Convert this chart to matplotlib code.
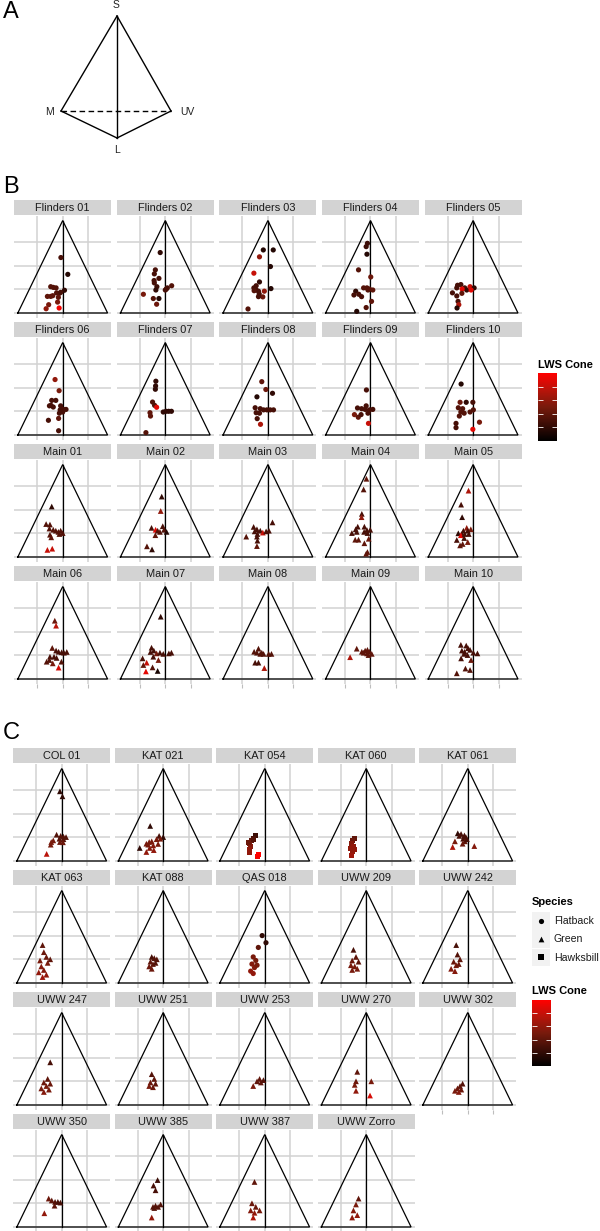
import matplotlib
matplotlib.use("Agg")
import matplotlib.pyplot as plt
from matplotlib.colors import LinearSegmentedColormap, Normalize
from matplotlib.cm import ScalarMappable

plt.rcParams['font.family'] = ['Liberation Sans', 'DejaVu Sans']

W, H = 600, 1231

# panel A: tetrahedron sketch (diagram units)
tetra_vertices = {"S": (0.0, 1.22), "M": (-0.56, 0.27), "UV": (0.54, 0.27), "L": (0.0, 0.0)}
tetra_edges = [("S", "M"), ("S", "UV"), ("S", "L"), ("M", "L"), ("UV", "L")]
tetra_hidden = [("M", "UV")]
tetra_label_pos = {"S": (-0.01, 1.33), "M": (-0.67, 0.26), "UV": (0.70, 0.26), "L": (0.0, -0.12)}

# side view of colour space
tri_x = [-1.76, 1.76, 0.0, -1.76]
tri_y = [0.0, 0.0, 3.9, 0.0]

# (x, y, LWS cone) per individual
flinders = {
    "Flinders 01": [(-0.07, 2.34, .30), (0.20, 1.63, .15), (-0.47, 1.11, .35), (-0.37, 1.08, .35),
                    (-0.26, 1.06, .35), (-0.60, 0.70, .40), (-0.47, 0.70, .40), (-0.39, 0.73, .40),
                    (-0.24, 0.85, .35), (-0.13, 0.83, .35), (0.07, 0.96, .20), (-0.17, 0.66, .40),
                    (-0.20, 0.46, .50), (-0.55, 0.35, .50), (-0.65, 0.18, .60), (-0.14, 0.21, .95),
                    (-0.08, 0.87, .30)],
    "Flinders 02": [(-0.20, 2.55, .20), (-0.39, 1.82, .30), (-0.43, 1.65, .30), (-0.25, 1.46, .30),
                    (-0.44, 1.37, .30), (-0.43, 1.27, .30), (-0.33, 1.11, .25), (-0.37, 0.97, .20),
                    (-0.86, 0.79, .50), (0.04, 1.01, .30), (0.25, 1.15, .35), (0.08, 1.06, .30),
                    (-0.47, 0.61, .35), (-0.25, 0.61, .15), (-0.34, 0.37, .45), (0.00, 0.97, .30)],
    "Flinders 03": [(-0.18, 2.66, .15), (0.21, 2.66, .15), (-0.33, 2.37, .60), (0.10, 1.96, .15),
                    (-0.55, 1.68, .80), (-0.33, 1.31, .20), (-0.46, 1.15, .30), (-0.55, 1.06, .30),
                    (-0.46, 0.97, .30), (-0.37, 0.92, .30), (-0.54, 0.94, .35), (-0.14, 0.92, .60),
                    (0.12, 1.03, .15), (-0.34, 0.80, .30), (-0.20, 0.68, .45), (-0.37, 0.69, .30),
                    (-0.78, 0.17, .35)],
    "Flinders 04": [(-0.12, 2.94, .25), (-0.17, 2.80, .25), (-0.14, 2.48, .15), (-0.47, 1.82, .35),
                    (0.01, 1.52, .45), (-0.27, 1.06, .35), (-0.14, 1.06, .35), (-0.04, 1.01, .35),
                    (0.09, 0.97, .40), (-0.10, 0.97, .35), (-0.58, 0.92, .20), (-0.65, 0.76, .30),
                    (-0.46, 0.79, .30), (-0.35, 0.69, .30), (0.04, 0.49, .40), (-0.17, 0.23, .35),
                    (-0.54, 0.07, .15)],
    "Flinders 05": [(-0.61, 1.17, .30), (-0.48, 1.20, .30), (-0.64, 1.06, .30), (-0.33, 1.06, .30),
                    (-0.25, 0.97, .20), (-0.12, 1.11, .80), (-0.43, 1.01, .90), (0.04, 1.06, .20),
                    (-0.08, 0.97, .90), (-0.44, 0.83, .40), (-0.81, 0.85, .30), (-0.64, 0.72, .30),
                    (-0.59, 0.49, .30), (-0.56, 0.35, .70), (-0.63, 0.21, .15)],
    "Flinders 06": [(-0.30, 2.34, .60), (-0.14, 1.87, .50), (-0.43, 1.46, .30), (-0.27, 1.46, .30),
                    (-0.52, 1.23, .30), (-0.46, 1.25, .30), (-0.37, 1.18, .30), (-0.08, 1.23, .30),
                    (-0.10, 1.06, .30), (0.03, 1.08, .30), (0.13, 1.08, .30), (-0.13, 0.92, .30),
                    (0.00, 0.97, .30), (-0.56, 0.62, .30), (-0.16, 0.70, .40), (-0.16, 0.18, .30)],
    "Flinders 07": [(-0.37, 2.27, .20), (-0.38, 2.07, .20), (-0.39, 1.93, .20), (-0.50, 1.39, .35),
                    (-0.42, 1.25, .35), (-0.34, 1.17, .90), (-0.60, 0.94, .40), (-0.58, 0.80, .40),
                    (-0.08, 0.97, .20), (0.03, 1.00, .20), (0.13, 1.00, .20), (0.24, 1.00, .20),
                    (-0.76, 0.10, .35)],
    "Flinders 08": [(-0.24, 2.25, .40), (-0.08, 1.92, .45), (0.18, 1.76, .20), (-0.43, 1.61, .15),
                    (-0.50, 1.15, .30), (-0.30, 1.11, .30), (-0.17, 1.06, .30), (-0.04, 1.06, .30),
                    (0.09, 1.06, .30), (0.22, 1.06, .30), (-0.46, 0.94, .30), (-0.33, 0.92, .30),
                    (-0.42, 0.69, .30), (-0.29, 0.45, .70)],
    "Flinders 09": [(-0.16, 1.90, .30), (-0.51, 1.14, .30), (-0.35, 1.11, .30), (-0.17, 1.23, .30),
                    (-0.21, 1.08, .30), (-0.04, 1.06, .30), (0.09, 1.08, .30), (-0.63, 0.86, .50),
                    (-0.48, 0.75, .40), (-0.37, 0.86, .30), (-0.10, 0.92, .30), (-0.08, 0.49, .80)],
    "Flinders 10": [(-0.47, 2.15, .15), (-0.51, 1.38, .45), (-0.27, 1.38, .20), (-0.01, 1.38, .30),
                    (-0.58, 1.15, .35), (-0.41, 1.11, .35), (-0.48, 0.97, .35), (-0.35, 0.92, .35),
                    (-0.12, 0.97, .35), (0.01, 1.06, .35), (-0.54, 0.80, .35), (0.25, 0.54, .50),
                    (-0.67, 0.49, .30), (-0.67, 0.31, .30), (-0.01, 0.24, .90)],
}

main = {
    "Main 01": [(-0.43, 2.13, .20), (-0.65, 1.39, .35), (-0.50, 1.37, .35), (-0.52, 1.20, .35),
                (-0.37, 1.15, .35), (-0.27, 1.11, .35), (-0.17, 1.06, .35), (-0.08, 1.11, .35),
                (0.00, 1.01, .35), (-0.13, 0.97, .35), (-0.50, 0.94, .35), (-0.45, 0.83, .40),
                (-0.60, 0.30, .80), (-0.41, 0.35, .80)],
    "Main 02": [(-0.14, 2.55, .20), (-0.18, 1.94, .60), (-0.10, 1.30, .30), (-0.54, 1.23, .30),
                (-0.38, 1.15, .90), (-0.30, 1.11, .35), (-0.21, 1.06, .35), (-0.05, 1.15, .35),
                (0.05, 1.06, .15), (-0.39, 0.92, .40), (-0.72, 0.45, .35), (-0.52, 0.32, .20)],
    "Main 03": [(0.18, 1.46, .30), (-0.56, 1.27, .30), (-0.43, 1.17, .30), (-0.30, 1.11, .30),
                (-0.20, 1.03, .80), (-0.07, 1.08, .30), (0.04, 1.11, .30), (-0.52, 1.08, .30),
                (-0.41, 0.97, .30), (-0.85, 0.86, .35), (-0.43, 0.86, .30), (-0.41, 0.69, .30),
                (-0.43, 0.46, .40)],
    "Main 04": [(-0.16, 3.30, .40), (-0.27, 2.85, .35), (-0.34, 1.82, .30), (-0.35, 1.68, .60),
                (-0.50, 1.28, .30), (-0.24, 1.28, .30), (-0.58, 1.17, .30), (-0.14, 1.14, .30),
                (-0.01, 1.15, .30), (-0.73, 1.01, .30), (-0.54, 1.06, .30), (-0.25, 1.06, .30),
                (-0.12, 1.01, .30), (-0.60, 0.73, .40), (-0.47, 0.73, .40), (-0.24, 0.58, .40),
                (-0.07, 0.77, .45), (-0.12, 0.21, .40), (-0.17, 0.14, .40)],
    "Main 05": [(-0.18, 2.80, .70), (-0.47, 2.21, .30), (-0.43, 1.68, .20), (-0.25, 1.23, .60),
                (-0.09, 1.17, .50), (-0.38, 1.11, .30), (-0.21, 1.11, .30), (-0.58, 1.00, .20),
                (-0.44, 0.97, .30), (-0.48, 0.92, .90), (-0.33, 0.97, .30), (-0.17, 0.97, .30),
                (-0.64, 0.72, .30), (-0.35, 0.80, .30), (-0.21, 0.63, .50), (-0.51, 0.49, .40),
                (-0.41, 0.55, .40)],
    "Main 06": [(-0.31, 2.46, .45), (-0.26, 2.25, .75), (-0.41, 1.31, .40), (-0.26, 1.20, .30),
                (-0.16, 1.15, .30), (-0.04, 1.13, .30), (0.16, 1.14, .30), (0.05, 1.11, .30),
                (-0.50, 0.94, .30), (-0.34, 0.94, .30), (-0.24, 0.89, .30), (-0.63, 0.73, .35),
                (-0.39, 0.66, .50), (-0.05, 0.73, .35), (-0.16, 0.48, .85), (-0.52, 0.80, .35)],
    "Main 07": [(-0.18, 2.63, .20), (-0.54, 1.32, .30), (-0.45, 1.20, .30), (-0.58, 1.14, .30),
                (-0.34, 1.08, .50), (-0.21, 1.11, .30), (-0.08, 1.06, .30), (0.14, 1.08, .30),
                (0.24, 1.11, .30), (-0.47, 0.94, .30), (-0.27, 0.80, .50), (-0.89, 0.87, .30),
                (-0.73, 0.69, .80), (-0.86, 0.59, .40), (-0.50, 0.49, .35), (-0.76, 0.32, .90),
                (-0.30, 0.34, .10)],
    "Main 08": [(-0.37, 1.28, .35), (-0.54, 1.15, .35), (-0.43, 1.11, .35), (-0.30, 1.06, .35),
                (-0.17, 1.06, .35), (-0.24, 1.11, .35), (0.03, 1.06, .35), (0.14, 1.06, .35),
                (-0.50, 0.69, .30), (-0.37, 0.69, .30), (-0.14, 0.46, .70)],
    "Main 09": [(-0.54, 1.28, .40), (-0.80, 0.92, .70), (-0.34, 1.15, .40), (-0.21, 1.20, .40),
                (-0.12, 1.23, .40), (-0.27, 1.11, .40), (-0.14, 1.08, .40), (-0.04, 1.15, .40),
                (0.05, 1.06, .40), (-0.08, 1.01, .40)],
    "Main 10": [(-0.48, 1.44, .30), (-0.27, 1.41, .30), (-0.20, 1.30, .30), (-0.44, 1.20, .30),
                (-0.12, 1.23, .30), (-0.33, 1.15, .30), (0.01, 1.11, .30), (0.17, 1.08, .30),
                (-0.35, 1.06, .30), (-0.22, 1.01, .30), (-0.47, 0.87, .30), (-0.08, 0.80, .45),
                (-0.30, 0.44, .35), (-0.12, 0.38, .35), (-0.64, 0.24, .35)],
}

sites = {
    "COL 01": [(-0.07, 2.94, .20), (0.03, 2.73, .20), (-0.20, 1.11, .35), (-0.04, 1.06, .35),
               (0.07, 1.03, .35), (0.17, 1.01, .35), (-0.09, 0.94, .35), (0.07, 0.92, .35),
               (-0.33, 0.87, .50), (-0.41, 0.80, .50), (-0.43, 0.69, .50), (-0.07, 0.80, .45),
               (0.05, 0.79, .45), (-0.59, 0.30, .75)],
    "KAT 021": [(-0.51, 1.48, .20), (-0.16, 1.06, .30), (0.00, 1.01, .20), (-0.26, 0.92, .50),
                (-0.45, 0.83, .50), (-0.59, 0.69, .50), (-0.66, 0.73, .50), (-0.39, 0.66, .55),
                (-0.20, 0.72, .50), (-0.53, 0.55, .55), (-0.37, 0.46, .60), (-0.66, 0.38, .60),
                (-0.92, 0.55, .20), (-0.55, 0.80, .50), (-0.11, 0.94, .50)],
    "KAT 054": [(-0.36, 1.06, .25), (-0.42, 0.97, .30), (-0.53, 0.87, .40), (-0.58, 0.73, .50),
                (-0.55, 0.63, .55), (-0.59, 0.49, .60), (-0.59, 0.35, .60), (-0.29, 0.21, .95),
                (-0.24, 0.27, 1.0), (-0.45, 0.92, .35), (-0.62, 0.80, .45)],
    "KAT 060": [(-0.47, 0.97, .40), (-0.54, 0.86, .45), (-0.58, 0.73, .55), (-0.50, 0.63, .60),
                (-0.61, 0.52, .60), (-0.55, 0.41, .60), (-0.58, 0.24, .65), (-0.47, 0.49, .60)],
    "KAT 061": [(-0.39, 1.17, .20), (-0.26, 1.14, .30), (-0.13, 1.08, .30), (-0.07, 1.01, .30),
                (-0.33, 1.06, .30), (-0.18, 0.94, .30), (-0.11, 0.83, .40), (-0.20, 0.73, .45),
                (-0.50, 0.83, .50), (-0.59, 0.59, .70), (0.26, 0.63, .55), (-0.03, 0.92, .30)],
    "KAT 063": [(-0.75, 1.60, .40), (-0.70, 1.30, .45), (-0.60, 1.10, .45), (-0.85, 0.95, .50),
                (-0.55, 0.85, .50), (-0.80, 0.70, .55), (-0.70, 0.55, .55), (-0.90, 0.45, .60),
                (-0.60, 0.35, .60), (-0.75, 0.25, .65), (-0.45, 1.00, .40)],
    "KAT 088": [(-0.45, 1.10, .30), (-0.35, 1.05, .35), (-0.25, 1.00, .35), (-0.50, 0.90, .40),
                (-0.40, 0.80, .40), (-0.55, 0.70, .45), (-0.30, 0.85, .35), (-0.45, 0.60, .45)],
    "QAS 018": [(-0.10, 2.00, .20), (0.05, 1.70, .20), (-0.25, 1.50, .40), (-0.45, 1.10, .50),
                (-0.35, 0.95, .50), (-0.50, 0.80, .55), (-0.40, 0.65, .55), (-0.30, 0.75, .50),
                (-0.55, 0.50, .60), (-0.45, 0.40, .60)],
    "UWW 209": [(-0.50, 1.40, .30), (-0.40, 1.10, .40), (-0.55, 0.95, .45), (-0.30, 0.90, .40),
                (-0.60, 0.75, .50), (-0.45, 0.70, .50), (-0.35, 0.60, .50), (-0.55, 0.55, .50)],
    "UWW 242": [(-0.45, 1.60, .30), (-0.40, 1.20, .35), (-0.30, 1.00, .40), (-0.55, 0.90, .45),
                (-0.45, 0.75, .50), (-0.65, 0.60, .55), (-0.50, 0.50, .55), (-0.35, 0.80, .45)],
    "UWW 247": [(-0.45, 1.80, .30), (-0.55, 1.10, .40), (-0.70, 0.95, .45), (-0.45, 0.90, .45),
                (-0.60, 0.80, .50), (-0.80, 0.70, .50), (-0.50, 0.65, .50), (-0.70, 0.55, .55)],
    "UWW 251": [(-0.45, 1.30, .35), (-0.35, 1.10, .40), (-0.50, 0.95, .45), (-0.30, 0.90, .40),
                (-0.55, 0.80, .50), (-0.40, 0.75, .45)],
    "UWW 253": [(-0.20, 1.10, .40), (-0.30, 1.00, .40), (-0.45, 0.80, .50), (-0.15, 0.95, .40),
                (-0.05, 1.05, .35)],
    "UWW 270": [(-0.35, 1.40, .40), (-0.40, 1.00, .45), (-0.45, 0.85, .50), (0.20, 1.00, .50),
                (-0.40, 0.60, .60), (0.15, 0.40, .85)],
    "UWW 302": [(-0.20, 0.90, .35), (-0.30, 0.80, .40), (-0.40, 0.70, .45), (-0.50, 0.60, .50),
                (-0.25, 0.65, .45), (-0.35, 0.55, .55)],
    "UWW 350": [(-0.51, 1.20, .45), (-0.39, 1.12, .40), (-0.26, 1.06, .35), (-0.15, 1.06, .30),
                (-0.05, 1.03, .30), (-0.28, 0.90, .40), (-0.68, 0.58, .60)],
    "UWW 385": [(-0.22, 1.98, .25), (-0.38, 1.75, .30), (-0.30, 1.55, .30), (-0.40, 0.85, .35),
                (-0.30, 0.90, .35), (-0.20, 0.85, .35), (-0.10, 0.95, .35), (-0.45, 0.40, .60),
                (-0.35, 0.80, .35)],
    "UWW 387": [(-0.40, 1.90, .40), (-0.50, 1.00, .45), (-0.35, 0.85, .45), (-0.55, 0.70, .55),
                (-0.40, 0.60, .60), (-0.20, 0.70, .50), (-0.45, 0.40, .70)],
    "UWW Zorro": [(-0.30, 1.20, .40), (-0.40, 0.95, .50), (-0.50, 0.70, .55), (-0.35, 0.50, .60),
                  (-0.55, 0.40, .60)],
}

site_species = {"KAT 054": "Hawksbill", "KAT 060": "Hawksbill", "QAS 018": "Flatback"}
species_names = ["Flatback", "Green", "Hawksbill"]
species_markers = {"Flatback": "o", "Green": "^", "Hawksbill": "s"}
marker_size = {"o": 14, "^": 17, "s": 13}

cmap = LinearSegmentedColormap.from_list(
    "lws", [(0, "#000000"), (0.25, "#3c0d06"), (0.5, "#771a0c"), (0.75, "#b8140a"), (1, "#ff0000")])
norm = Normalize(0, 1)

fig = plt.figure(figsize=(6, 12.31), dpi=100)


def px_axes(x, y, w, h):
    # add axes from a pixel box measured from the top-left corner
    return fig.add_axes([x / W, 1 - (y + h) / H, w / W, h / H])


PX_PER_X = 25.5
PX_PER_Y = 23.7
XLIM = (-1.9, 1.9)
YLIM = (-0.2, 4.1)
PW = (XLIM[1] - XLIM[0]) * PX_PER_X
PH = (YLIM[1] - YLIM[0]) * PX_PER_Y


def draw_facet(cx, base_y, name, pts, marker, xticks_on):
    top = base_y - YLIM[1] * PX_PER_Y
    ax = px_axes(cx - PW / 2, top, PW, PH)
    ax.set_xlim(*XLIM)
    ax.set_ylim(*YLIM)
    ax.set_xticks([-1, 0, 1])
    ax.set_yticks([0, 1, 2, 3])
    ax.grid(True, color="#d2d2d2", lw=1.1)
    ax.set_axisbelow(True)
    for s in ax.spines.values():
        s.set_visible(False)
    ax.tick_params(labelbottom=False, labelleft=False, length=0)
    if xticks_on:
        ax.tick_params(axis="x", length=3, color="#bdbdbd", width=0.8)
    ax.plot(tri_x, tri_y, color="black", lw=0.9, solid_joinstyle="miter")
    ax.plot([0, 0], [0, tri_y[2]], color="black", lw=0.9)
    if pts:
        xs, ys, cs = zip(*pts)
        ax.scatter(xs, ys, c=cs, cmap=cmap, norm=norm, marker=marker,
                   s=marker_size[marker], linewidths=0, zorder=3)
    # strip
    sax = px_axes(cx - PW / 2, top - 16, PW, 15)
    sax.set_facecolor("#d3d3d3")
    sax.set_xticks([])
    sax.set_yticks([])
    for s in sax.spines.values():
        s.set_visible(False)
    sax.text(0.5, 0.45, name, ha="center", va="center", fontsize=7.9, color="#1a1a1a")
    return ax


# ---- panel A
axA = px_axes(17, 0, 200, 170)
axA.set_xlim(-1, 1)
axA.set_ylim(-0.32, 1.38)
axA.axis("off")
for a, b in tetra_edges:
    (x0, y0), (x1, y1) = tetra_vertices[a], tetra_vertices[b]
    axA.plot([x0, x1], [y0, y1], color="black", lw=1.0)
for a, b in tetra_hidden:
    (x0, y0), (x1, y1) = tetra_vertices[a], tetra_vertices[b]
    axA.plot([x0, x1], [y0, y1], color="black", lw=1.0, ls=(0, (4, 2.5)))
for k, (lx, ly) in tetra_label_pos.items():
    axA.text(lx, ly, k, ha="center", va="center", fontsize=7.5, color="#222222")

# ---- panel B
b_centers = [62.7 + 102.6 * j for j in range(5)]
b_names = list(flinders.keys()) + list(main.keys())
for i, name in enumerate(b_names):
    r, c = divmod(i, 5)
    pts = flinders.get(name) or main.get(name)
    marker = "o" if name in flinders else "^"
    draw_facet(b_centers[c], 313 + 122 * r, name, pts, marker, r == 3)

# ---- panel C
c_centers = [61.7 + 101.5 * j for j in range(5)]
c_names = list(sites.keys())
for i, name in enumerate(c_names):
    r, c = divmod(i, 5)
    sp = site_species.get(name, "Green")
    last_row = r == 3 or (r == 2 and c == 4)
    draw_facet(c_centers[c], 861 + 122 * r, name, sites[name], species_markers[sp], last_row)

# panel letters
for letter, (lx, ly) in {"A": (11, 12), "B": (11, 187), "C": (11, 733)}.items():
    fig.text(lx / W, 1 - ly / H, letter, fontsize=17, ha="center", va="center")


def colorbar(x, y, w, h):
    cax = px_axes(x, y, w, h)
    cb = fig.colorbar(ScalarMappable(norm=norm, cmap=cmap), cax=cax)
    cb.outline.set_visible(False)
    cb.set_ticks([0.2, 0.4, 0.6, 0.8])
    cax.tick_params(axis="y", colors="white", length=3.5, width=0.6, direction="in",
                    left=True, right=True, labelright=False, labelleft=False)
    return cax


# legend B
fig.text(538 / W, 1 - 365 / H, "LWS Cone", fontsize=8, fontweight="bold", va="center")
colorbar(538, 373, 19, 68)

# legend C
fig.text(532 / W, 1 - 902 / H, "Species", fontsize=8, fontweight="bold", va="center")
for i, sp in enumerate(species_names):
    ky = 912 + 18.3 * i
    kax = px_axes(532, ky, 18, 17.5)
    kax.set_facecolor("#f2f2f2")
    kax.set_xlim(0, 1)
    kax.set_ylim(0, 1)
    kax.set_xticks([])
    kax.set_yticks([])
    for s in kax.spines.values():
        s.set_visible(False)
    kax.scatter([0.5], [0.5], marker=species_markers[sp], s=marker_size[species_markers[sp]], color="black", linewidths=0)
    fig.text(554 / W, 1 - (ky + 9) / H, sp, fontsize=7.6, va="center", color="#1a1a1a")

fig.text(532 / W, 1 - 991 / H, "LWS Cone", fontsize=8, fontweight="bold", va="center")
colorbar(532, 1000, 19, 66)

fig.savefig("out.png", dpi=100)
